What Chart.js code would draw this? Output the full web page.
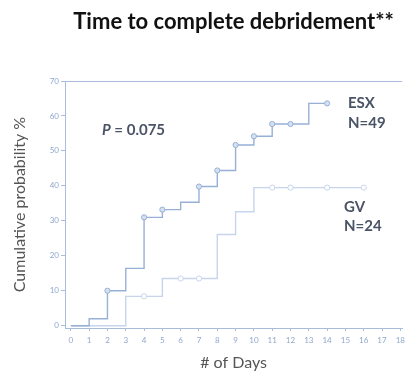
<!DOCTYPE html>
<html><head><meta charset="utf-8">
<script src="https://cdn.jsdelivr.net/npm/chart.js@4/dist/chart.umd.min.js"></script>
<style>html,body{margin:0;padding:0;background:#fff;}#wrap{width:410px;height:372px;position:relative;}</style>
</head><body><div id="wrap"><canvas id="c"></canvas></div>
<script>
const chartTitle = 'Time to complete debridement**';
const xTitle = '# of Days';
const yTitle = 'Cumulative probability %';
const xTicks = [0,1,2,3,4,5,6,7,8,9,10,11,12,13,14,15,16,17,18];
const yTicks = [0,10,20,30,40,50,60,70];

const esxName = 'ESX';
const esxN = 'N=49';
const esxDays = [0,1,2,3,4,5,6,7,8,9,10,11,12,13,14];
const esxValues = [0,2,10,16.4,31,33.2,35.3,39.8,44.4,51.7,54.2,57.7,57.7,63.6,63.6];
const esxMarkerDays = [2,4,5,7,8,9,10,11,12,14];

const gvName = 'GV';
const gvN = 'N=24';
const gvDays = [0,3,4,5,6,7,8,9,10,11,12,14,16];
const gvValues = [0,8.4,8.4,13.5,13.5,13.5,26.1,32.6,39.5,39.5,39.5,39.5,39.5];
const gvMarkerDays = [4,6,7,11,12,14,16];

const pText = '0.075';

const axisColor = '#a9bddb';
const tickColor = '#8fa7cc';
const esxColor = '#97b0d6';
const gvColor = '#c6d5ec';
const labelColor = '#4a5466';

function pts(days, vals){ return days.map((d,i)=>({x:d,y:vals[i]})); }
function radii(days, marks){ return days.map(d => marks.includes(d) ? 2.6 : 0); }

const annot = {
  id:'annot',
  afterDatasetsDraw(chart){
    const ctx = chart.ctx;
    ctx.save();
    ctx.fillStyle = labelColor;
    ctx.textBaseline = 'middle';
    ctx.textAlign = 'left';
    ctx.font = 'bold 15px Lato';
    ctx.fillText(esxName, 348, 103);
    ctx.fillText(esxN, 348, 123);
    ctx.fillText(gvName, 344, 207);
    ctx.fillText(gvN, 344, 226);
    ctx.font = 'italic bold 15px Lato';
    ctx.fillText('P', 102, 130);
    const w = ctx.measureText('P').width;
    ctx.font = 'bold 15px Lato';
    ctx.fillText(' = ' + pText, 102 + w, 130);
    ctx.strokeStyle = axisColor; ctx.lineWidth = 1;
    ctx.beginPath(); ctx.moveTo(chart.chartArea.left, Math.round(chart.chartArea.top)+0.5); ctx.lineTo(chart.chartArea.right, Math.round(chart.chartArea.top)+0.5); ctx.stroke();
    ctx.restore();
  }
};

new Chart(document.getElementById('c'), {
  type:'line',
  data:{ datasets:[
    { label:esxName, data:pts(esxDays,esxValues), stepped:'before', borderColor:esxColor, borderWidth:1.4,
      pointRadius:radii(esxDays,esxMarkerDays), pointBorderColor:esxColor, pointBackgroundColor:'#d5e0f0', pointBorderWidth:1, fill:false },
    { label:gvName, data:pts(gvDays,gvValues), stepped:'before', borderColor:gvColor, borderWidth:1.4,
      pointRadius:radii(gvDays,gvMarkerDays), pointBorderColor:gvColor, pointBackgroundColor:'#ffffff', pointBorderWidth:1, fill:false }
  ]},
  options:{
    responsive:true, maintainAspectRatio:false, animation:false, devicePixelRatio:1,
    layout:{padding:{left:8,top:0,right:0,bottom:0}},
    plugins:{
      legend:{display:false}, tooltip:{enabled:false},
      title:{display:true, text:chartTitle, fullSize:false, color:'#111', font:{family:'Lato', weight:'bold', size:22}, padding:{top:9,bottom:45.6}}
    },
    scales:{
      x:{ type:'linear', min:-0.32, max:18.1,
        afterBuildTicks(s){ s.ticks = xTicks.map(v=>({value:v})); },
        afterFit(s){ s.height = 44; },
        ticks:{ color:tickColor, font:{family:'Lato', size:8}, padding:5, autoSkip:false, maxRotation:0 },
        grid:{ drawOnChartArea:false, tickLength:3, tickColor:axisColor },
        border:{ color:axisColor, dash:[2,2] },
        title:{ display:true, text:xTitle, color:'#555', font:{family:'Lato', size:16}, padding:{top:0,bottom:0} }
      },
      y:{ min:-0.66, max:70,
        afterBuildTicks(s){ s.ticks = yTicks.map(v=>({value:v})); },
        afterFit(s){ s.width = 57; },
        ticks:{ color:tickColor, font:{family:'Lato', size:8}, padding:2 },
        grid:{ color:(c)=> 'rgba(0,0,0,0)', tickLength:4, tickColor:axisColor },
        border:{ color:axisColor },
        title:{ display:true, text:yTitle, color:'#555', font:{family:'Lato', size:16}, padding:{top:2,bottom:0} }
      }
    }
  },
  plugins:[annot]
});
</script></body></html>
